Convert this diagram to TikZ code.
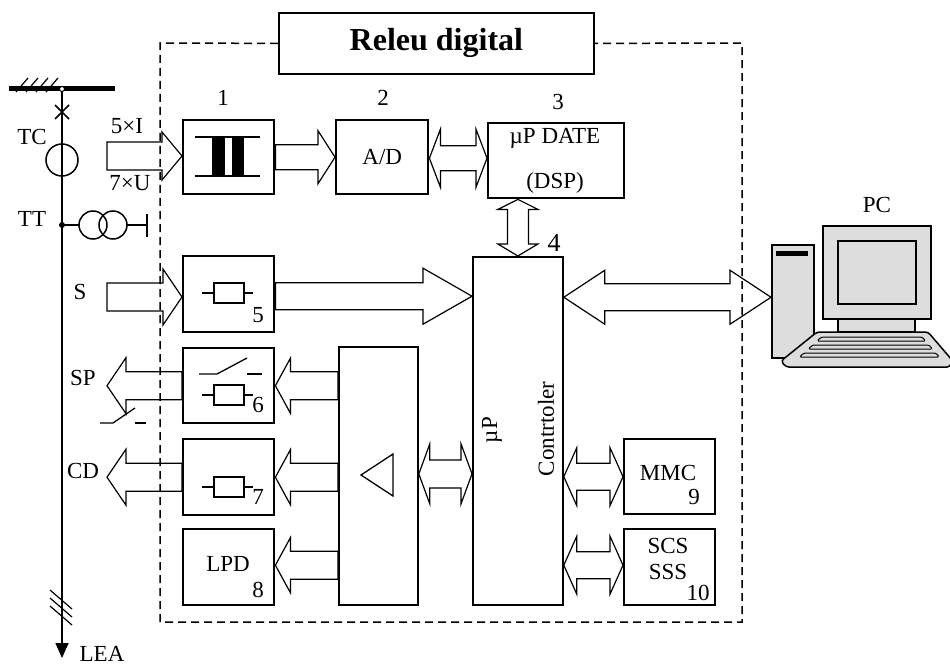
\documentclass[tikz,border=0pt]{standalone}
\usepackage{fontspec}
\setmainfont{Liberation Serif}
\usetikzlibrary{calc,arrows.meta}
\definecolor{pcgray}{RGB}{221,221,221}

% hollow one-headed arrow: #1 tail, #2 tip, #3 body half-width, #4 head half-width, #5 signed head length
\newcommand\fatR[5]{%
  \draw[fatline] let \p1=#1, \p2=#2 in
    (\x1,{\y1+#3}) -- ({\x2-(#5)},{\y1+#3}) -- ({\x2-(#5)},{\y1+#4}) -- (\x2,\y1)
    -- ({\x2-(#5)},{\y1-(#4)}) -- ({\x2-(#5)},{\y1-(#3)}) -- (\x1,{\y1-(#3)}) -- cycle;}
% hollow two-headed arrow, same arguments
\newcommand\fatD[5]{%
  \draw[fatline] let \p1=#1, \p2=#2 in
    (\x1,\y1) -- ({\x1+(#5)},{\y1+#4}) -- ({\x1+(#5)},{\y1+#3}) -- ({\x2-(#5)},{\y1+#3})
    -- ({\x2-(#5)},{\y1+#4}) -- (\x2,\y1) -- ({\x2-(#5)},{\y1-(#4)}) -- ({\x2-(#5)},{\y1-(#3)})
    -- ({\x1+(#5)},{\y1-(#3)}) -- ({\x1+(#5)},{\y1-(#4)}) -- cycle;}

\begin{document}
\begin{tikzpicture}[x=1pt,y=-1pt,
  font=\fontsize{23}{27}\selectfont,
  blk/.style={draw, line width=2.4pt, anchor=north west, inner sep=0pt},
  thinblk/.style={draw, line width=1.8pt, anchor=north west, inner sep=0pt},
  fatline/.style={line width=1.2pt, line join=miter},
  sym/.style={line width=1.3pt},
  lbl/.style={inner sep=0pt},
  frame/.style={dash pattern=on 8pt off 5pt, line width=1.5pt},
  pcpart/.style={draw, line width=1.5pt, fill=pcgray},
  resist/.pic={\draw[sym] (-27,0) -- (-15,0) (15,0) -- (24,0);
               \draw[sym] (-15,-10) rectangle (15,10);}
]
\useasboundingbox (0,0) rectangle (950,666);

% ---------- title and relay frame ----------
\node[thinblk, minimum width=315pt, minimum height=61pt,
      font=\bfseries\fontsize{32}{38}\selectfont] (title) at (278,12) {Releu digital};
\draw[frame] (title.west) -- (160,43) -- (160,622) -- (742,622) -- (742,43) -- (title.east);

% ---------- blocks ----------
\node[blk, minimum width=91pt, minimum height=74pt] (b1) at (182,119) {};
\node[blk, minimum width=92pt, minimum height=74pt] (ad) at (335,119) {A/D};
\node[blk, minimum width=136pt, minimum height=75pt] (dsp) at (487,122) {};
\node[thinblk, minimum width=90pt, minimum height=348pt] (ctrl) at (472,256) {};
\node[blk, minimum width=91pt, minimum height=76pt] (b5) at (182,255) {};
\node[blk, minimum width=91pt, minimum height=75pt] (b6) at (182,347) {};
\node[blk, minimum width=91pt, minimum height=76pt] (b7) at (182,438) {};
\node[blk, minimum width=91pt, minimum height=76pt] (b8) at (182,528) {};
\node[thinblk, minimum width=79pt, minimum height=258pt] (amp) at (338,346) {};
\node[blk, minimum width=91pt, minimum height=75pt] (mmc) at (623,438) {};
\node[blk, minimum width=91pt, minimum height=76pt] (scs) at (623,528) {};

% block texts and numbers
\node[lbl] at (223,98) {1};
\node[lbl] at (383,98) {2};
\node[lbl] at (558,102) {3};
\node[lbl, font=\fontsize{26}{30}\selectfont] at (554,243) {4};
\node[lbl] at (555,138) {µP DATE};
\node[lbl] at (555,183) {(DSP)};
\node[lbl] at (258,315) {5};
\node[lbl] at (258,405) {6};
\node[lbl] at (258,497) {7};
\node[lbl] at (228,564) {LPD};
\node[lbl] at (258,590) {8};
\node[lbl] at (668,473) {MMC};
\node[lbl] at (694,497) {9};
\node[lbl] at (668,546) {SCS};
\node[lbl] at (668,572) {SSS};
\node[lbl] at (698,593) {10};
\node[lbl, rotate=90] at (492,430) {µP};
\node[lbl, rotate=90] at (546,429) {Contrtoler};

% symbols inside the blocks
\fill (212,137) rectangle (225,176);
\fill (232,137) rectangle (244,176);
\draw[sym] (195,137) -- (260,137) (195,176) -- (260,176);
\pic at (229,293) {resist};
\draw[sym] (199,374) -- (217,374) -- (247,358);
\draw[sym] (247,374) -- (262,374);
\pic at (229,395) {resist};
\pic at (229,487) {resist};
\draw[line width=1.3pt] (361,475) -- (393,454) -- (393,496) -- cycle;

% ---------- primary circuit ----------
\coordinate (busTop) at (62,89);
\coordinate (lea) at (62,658);
\draw[line width=5pt] (9,89) -- (115,89);
\foreach \k in {0,1,2,3}
  \draw[line width=1.2pt] ({16+10*\k},92) -- ({28+10*\k},78);
\draw[line width=1.5pt, -{Triangle[length=15pt,width=13pt]}] (busTop) -- (lea);
\node[circle, draw, fill=white, line width=1pt, minimum size=5pt, inner sep=0pt] at (busTop) {};
\draw[line width=1.6pt] (55,105) -- (69,119) (55,119) -- (69,105);
\node[circle, draw, line width=1.5pt, minimum size=32pt, inner sep=0pt] (tc) at (62,160) {};
\fill (62,225) circle (3);
\draw[line width=1.5pt] (62,225) -- (79,225) (127,225) -- (147,225) (147,214) -- (147,237);
\draw[line width=1.5pt] (93,225) circle (14) (113,225) circle (14);
\foreach \d in {0,8,16}
  \draw[line width=1.2pt] (50,{590+\d}) -- (72,{609+\d});
\draw[sym] (100,423) -- (113,423) -- (135,408);
\draw[sym] (135,423) -- (146,423);

\node[lbl] at (32,137) {TC};
\node[lbl] at (32,219) {TT};
\node[lbl] at (127,126) {5×I};
\node[lbl] at (130,183) {7×U};
\node[lbl] at (80,292) {S};
\node[lbl] at (83,378) {SP};
\node[lbl] at (83,471) {CD};
\node[lbl] at (102,654) {LEA};

% ---------- PC ----------
\node[pcpart, anchor=north west, minimum width=42pt, minimum height=113pt, inner sep=0pt] (tower) at (771,244) {};
\fill (776,251) rectangle (808,256);
\draw[pcpart] (823,226) rectangle (931,319);
\draw[pcpart] (838,241) rectangle (916,304);
\draw[pcpart] (838,319) rectangle (915,332);
\draw[pcpart, rounded corners=3pt] (817,332) -- (928,332) -- (952,360) -- (950,367) -- (786,367) -- (781,361) -- cycle;
\draw[line width=1pt, fill=pcgray, rounded corners=1.5pt] (821.5,337) -- (922,337) -- (925.7,341) -- (817,341) -- cycle;
\draw[line width=1pt, fill=pcgray, rounded corners=1.5pt] (812.7,345) -- (929,345) -- (932.5,349) -- (808.3,349) -- cycle;
\draw[line width=1pt, fill=pcgray, rounded corners=1.5pt] (803.9,353) -- (935.9,353) -- (939.3,357) -- (799.5,357) -- cycle;
\node[lbl] at (877,205) {PC};

% ---------- buses ----------
\coordinate (inTail) at (107,156);
\coordinate (sTail) at (107,297);
\coordinate (spTip) at (107,383);
\coordinate (cdTip) at (107,477);
\fatR{(inTail)}{(b1.west)}{14pt}{24pt}{20pt}
\fatR{(b1.east)}{(ad.west)}{12.5pt}{26.5pt}{17pt}
\fatD{([yshift=-1pt]ad.east)}{(dsp.west)}{12.5pt}{29pt}{11pt}
\draw[fatline] let \p1=(dsp.south -| ctrl.north), \p2=(ctrl.north) in
  (\x2,\y1) -- ({\x2+20pt},{\y1-10pt}) -- ({\x2+10.5pt},{\y1-10pt}) -- ({\x2+10.5pt},{\y2+12pt})
  -- ({\x2+20pt},{\y2+12pt}) -- (\x2,\y2) -- ({\x2-20pt},{\y2+12pt}) -- ({\x2-10.5pt},{\y2+12pt})
  -- ({\x2-10.5pt},{\y1-10pt}) -- ({\x2-20pt},{\y1-10pt}) -- cycle;
\fatR{(sTail)}{(b5.west)}{14pt}{28pt}{19pt}
\fatR{([yshift=-2pt]b5.east)}{(ctrl.west)}{13.5pt}{28pt}{49pt}
\fatD{([yshift=4pt]tower.west)}{(ctrl.east)}{13.5pt}{27pt}{-41pt}
\fatD{([yshift=2pt]amp.east)}{(ctrl.west)}{14pt}{30pt}{11pt}
\fatR{(amp.west |- b6.east)}{(b6.east)}{14pt}{27.5pt}{-15pt}
\fatR{(amp.west |- b7.east)}{(b7.east)}{14pt}{27.5pt}{-15pt}
\fatR{([yshift=2pt]amp.west |- b8.east)}{(b8.east)}{14pt}{27.5pt}{-15pt}
\fatR{(b6.west)}{(spTip)}{14pt}{28pt}{-19pt}
\fatR{(b7.west)}{(cdTip)}{14pt}{28pt}{-19pt}
\fatD{(ctrl.east |- mmc.west)}{(mmc.west)}{13.5pt}{29pt}{13pt}
\fatD{([yshift=2pt]ctrl.east |- scs.west)}{(scs.west)}{13.5pt}{29pt}{13pt}
\end{tikzpicture}
\end{document}
